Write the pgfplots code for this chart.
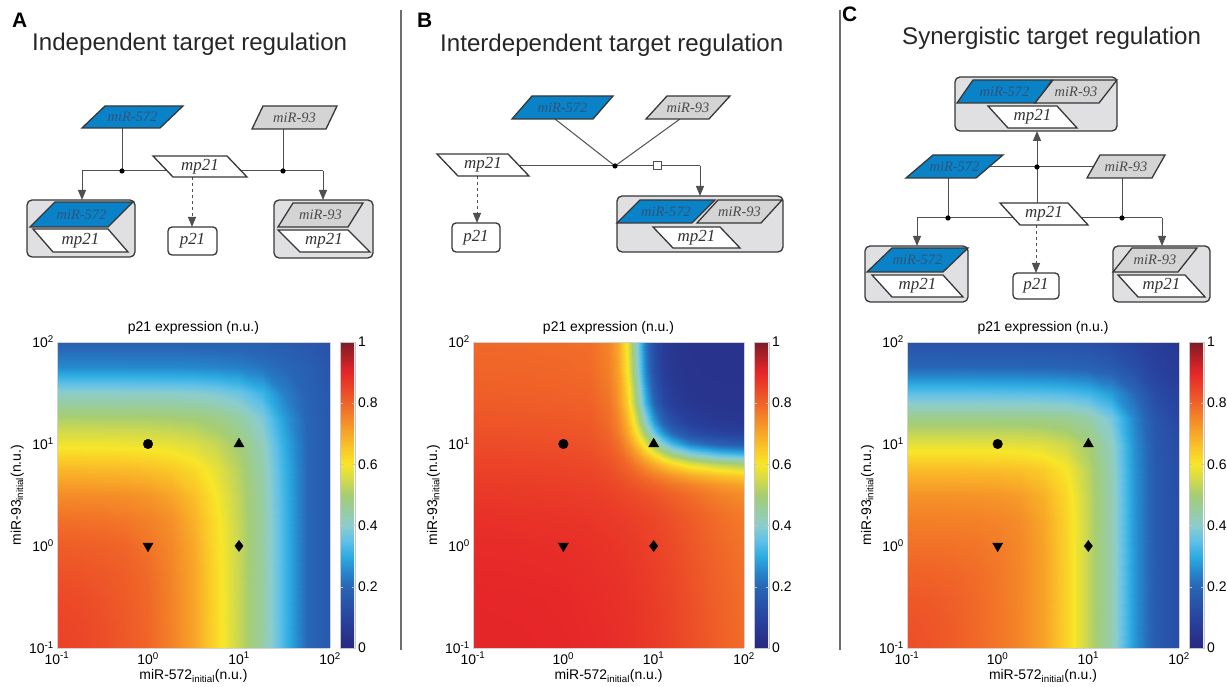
\documentclass[border=0pt]{standalone}
\usepackage{fontspec}
\setmainfont{Liberation Sans}
\newfontfamily\serif{Liberation Serif}
\usepackage{pgfplots}
\pgfplotsset{compat=1.18}
\usetikzlibrary{arrows.meta}

\definecolor{mirblue}{RGB}{10,130,200}
\definecolor{mirgray}{RGB}{212,212,212}
\definecolor{cplx}{RGB}{224,224,226}
\definecolor{bord}{RGB}{55,55,55}
\definecolor{conn}{RGB}{80,80,80}
\definecolor{sepc}{RGB}{110,110,110}
\definecolor{txtblue}{RGB}{45,85,125}
\definecolor{txtgray}{RGB}{75,75,75}
\definecolor{txtdark}{RGB}{50,50,50}

\newcommand{\axfont}{\fontsize{14}{16}\selectfont}
\newcommand{\dfont}[1]{\serif\itshape\fontsize{#1}{#1}\selectfont}

\tikzset{
  pb/.style={draw=bord, line width=1.3bp, line join=miter},
  cn/.style={draw=conn, line width=1bp},
  arr/.style={cn, -{Triangle[length=10bp,width=8bp]}},
}
% tlx, trx, blx, ytop, ybot, fill, textcolor, text, size
\newcommand{\para}[9]{%
  \draw[pb, fill=#6] (#1,#4) -- (#2,#4) -- ({#3+#2-#1},#5) -- (#3,#5) -- cycle;
  \node[text=#7, font=\dfont{#9}, inner sep=0pt] at ({(#2+#3)/2},{(#4+#5)/2}) {#8};}

\pgfplotsset{
  colormap={printjet}{
    rgb255(0pt)=(40,40,128) rgb255(5pt)=(40,54,144) rgb255(10pt)=(40,68,160)
    rgb255(15pt)=(40,85,171) rgb255(20pt)=(40,102,182) rgb255(25pt)=(38,135,205)
    rgb255(30pt)=(45,172,225) rgb255(35pt)=(95,192,232) rgb255(40pt)=(140,205,205)
    rgb255(45pt)=(152,205,160) rgb255(50pt)=(165,205,115) rgb255(55pt)=(210,218,75)
    rgb255(60pt)=(248,230,40) rgb255(65pt)=(250,200,40) rgb255(70pt)=(248,168,40)
    rgb255(75pt)=(244,135,40) rgb255(80pt)=(240,100,40) rgb255(85pt)=(235,68,40)
    rgb255(90pt)=(230,38,40) rgb255(95pt)=(180,32,40) rgb255(100pt)=(125,28,38)},
  colorbar shift/.style={},
  heat/.style={
    scale only axis, height=306bp, view={0}{90},
    xmin=-1, xmax=2, ymin=-1, ymax=2,
    enlargelimits=false,
    xtick={-1,0,1,2}, ytick={-1,0,1,2},
    xticklabels={10\textsuperscript{-1},10\textsuperscript{0},10\textsuperscript{1},10\textsuperscript{2}},
    yticklabels={10\textsuperscript{-1},10\textsuperscript{0},10\textsuperscript{1},10\textsuperscript{2}},
    tick label style={font=\axfont},
    xticklabel style={anchor=north, inner sep=0pt, yshift=-4bp},
    yticklabel style={anchor=east, inner sep=0pt, xshift=-3bp},
    major tick length=0pt, minor tick length=0pt,
    axis line style={draw=gray!35, line width=0.5bp},
    axis on top,
    colormap name=printjet,
    point meta min=0, point meta max=1,
    title={p21 expression (n.u.)},
    title style={font=\axfont, at={(axis description cs:0.5,1)}, anchor=base, yshift=5bp},
    xlabel={miR-572\textsubscript{initial}(n.u.)},
    xlabel style={font=\axfont, at={(axis description cs:0.5,0)}, anchor=base, yshift=-32bp},
    ylabel={miR-93\textsubscript{initial}(n.u.)},
    ylabel style={font=\axfont, at={(axis description cs:-0.132,0.5)}, anchor=base},
    colorbar,
    colorbar style={
      at={(parent axis.north east)}, anchor=north west, xshift=10bp,
      scale only axis, width=15bp,
      ytick={0,0.2,0.4,0.6,0.8,1},
      yticklabels={0,0.2,0.4,0.6,0.8,1},
      yticklabel style={font=\axfont, inner sep=0pt, anchor=west, xshift=3bp},
      axis line style={draw=gray!45, line width=0.5bp},
      major tick length=3bp, tick style={draw=gray!45}, tick align=inside,
    },
  },
  mk/.style={only marks, black, forget plot},
}

\begin{document}
\begin{tikzpicture}[x=1bp, y=1bp]
\useasboundingbox (0,0) rectangle (1227,687);

%================ Panel A heat map =================
\begin{axis}[heat, at={(57bp,39bp)}, anchor=south west, width=273bp]
\addplot3[surf, shader=interp, mesh/rows=13] coordinates {
(-1,-1,0.855) (-0.75,-1,0.847) (-0.5,-1,0.836) (-0.25,-1,0.818) (0,-1,0.799) (0.25,-1,0.758) (0.5,-1,0.707) (0.75,-1,0.623) (1,-1,0.538) (1.25,-1,0.449) (1.5,-1,0.320) (1.75,-1,0.202) (2,-1,0.160)
(-1,-0.75,0.850) (-0.75,-0.75,0.845) (-0.5,-0.75,0.834) (-0.25,-0.75,0.817) (0,-0.75,0.798) (0.25,-0.75,0.758) (0.5,-0.75,0.706) (0.75,-0.75,0.622) (1,-0.75,0.538) (1.25,-0.75,0.449) (1.5,-0.75,0.320) (1.75,-0.75,0.202) (2,-0.75,0.160)
(-1,-0.5,0.843) (-0.75,-0.5,0.838) (-0.5,-0.5,0.828) (-0.25,-0.5,0.814) (0,-0.5,0.795) (0.25,-0.5,0.757) (0.5,-0.5,0.705) (0.75,-0.5,0.622) (1,-0.5,0.538) (1.25,-0.5,0.449) (1.5,-0.5,0.320) (1.75,-0.5,0.202) (2,-0.5,0.160)
(-1,-0.25,0.829) (-0.75,-0.25,0.825) (-0.5,-0.25,0.819) (-0.25,-0.25,0.809) (0,-0.25,0.790) (0.25,-0.25,0.754) (0.5,-0.25,0.703) (0.75,-0.25,0.621) (1,-0.25,0.537) (1.25,-0.25,0.449) (1.5,-0.25,0.320) (1.75,-0.25,0.202) (2,-0.25,0.160)
(-1,0,0.811) (-0.75,0,0.810) (-0.5,0,0.806) (-0.25,0,0.800) (0,0,0.778) (0.25,0,0.749) (0.5,0,0.697) (0.75,0,0.618) (1,0,0.536) (1.25,0,0.448) (1.5,0,0.320) (1.75,0,0.202) (2,0,0.160)
(-1,0.25,0.784) (-0.75,0.25,0.782) (-0.5,0.25,0.779) (-0.25,0.25,0.772) (0,0.25,0.759) (0.25,0.25,0.738) (0.5,0.25,0.685) (0.75,0.25,0.612) (1,0.25,0.534) (1.25,0.25,0.447) (1.5,0.25,0.318) (1.75,0.25,0.202) (2,0.25,0.160)
(-1,0.5,0.743) (-0.75,0.5,0.743) (-0.5,0.5,0.741) (-0.25,0.5,0.738) (0,0.5,0.729) (0.25,0.5,0.706) (0.5,0.5,0.662) (0.75,0.5,0.600) (1,0.5,0.529) (1.25,0.5,0.444) (1.5,0.5,0.316) (1.75,0.5,0.201) (2,0.5,0.160)
(-1,0.75,0.674) (-0.75,0.75,0.674) (-0.5,0.75,0.672) (-0.25,0.75,0.670) (0,0.75,0.663) (0.25,0.75,0.649) (0.5,0.75,0.622) (0.75,0.75,0.576) (1,0.75,0.518) (1.25,0.75,0.436) (1.5,0.75,0.311) (1.75,0.75,0.201) (2,0.75,0.160)
(-1,1,0.589) (-0.75,1,0.589) (-0.5,1,0.589) (-0.25,1,0.587) (0,1,0.584) (0.25,1,0.577) (0.5,1,0.563) (0.75,1,0.537) (1,1,0.494) (1.25,1,0.420) (1.5,1,0.300) (1.75,1,0.200) (2,1,0.159)
(-1,1.25,0.508) (-0.75,1.25,0.508) (-0.5,1.25,0.507) (-0.25,1.25,0.507) (0,1.25,0.505) (0.25,1.25,0.503) (0.5,1.25,0.496) (0.75,1.25,0.481) (1,1.25,0.448) (1.25,1.25,0.385) (1.5,1.25,0.275) (1.75,1.25,0.197) (2,1.25,0.158)
(-1,1.5,0.405) (-0.75,1.5,0.405) (-0.5,1.5,0.405) (-0.25,1.5,0.404) (0,1.5,0.403) (0.25,1.5,0.401) (0.5,1.5,0.397) (0.75,1.5,0.387) (1,1.5,0.365) (1.25,1.5,0.319) (1.5,1.5,0.237) (1.75,1.5,0.191) (2,1.5,0.156)
(-1,1.75,0.253) (-0.75,1.75,0.253) (-0.5,1.75,0.253) (-0.25,1.75,0.253) (0,1.75,0.252) (0.25,1.75,0.252) (0.5,1.75,0.250) (0.75,1.75,0.246) (1,1.75,0.238) (1.25,1.75,0.221) (1.5,1.75,0.201) (1.75,1.75,0.180) (2,1.75,0.152)
(-1,2,0.186) (-0.75,2,0.186) (-0.5,2,0.186) (-0.25,2,0.186) (0,2,0.186) (0.25,2,0.186) (0.5,2,0.185) (0.75,2,0.185) (1,2,0.183) (1.25,2,0.180) (1.5,2,0.173) (1.75,2,0.160) (2,2,0.143)
};
\addplot3[mk, mark=*, mark size=4.8bp] coordinates {(0,1,1)};
\addplot3[mk, mark=triangle*, mark size=5.8bp] coordinates {(1,1,1)};
\addplot3[mk, mark=triangle*, mark size=5.8bp, mark options={rotate=180}] coordinates {(0,0,1)};
\addplot3[mk, mark=diamond*, mark size=5.5bp] coordinates {(1,0,1)};
\end{axis}

%================ Panel B heat map =================
\begin{axis}[heat, at={(473bp,39bp)}, anchor=south west, width=271bp]
\addplot3[surf, shader=interp, mesh/rows=15] coordinates {
(-1,-1,0.903) (-0.5,-1,0.902) (0,-1,0.899) (0.3,-1,0.894) (0.5,-1,0.889) (0.6,-1,0.886) (0.7,-1,0.882) (0.8,-1,0.878) (0.9,-1,0.872) (1,-1,0.866) (1.1,-1,0.859) (1.2,-1,0.852) (1.4,-1,0.835) (1.7,-1,0.810) (2,-1,0.788)
(-1,-0.5,0.900) (-0.5,-0.5,0.899) (0,-0.5,0.896) (0.3,-0.5,0.891) (0.5,-0.5,0.886) (0.6,-0.5,0.883) (0.7,-0.5,0.879) (0.8,-0.5,0.874) (0.9,-0.5,0.869) (1,-0.5,0.863) (1.1,-0.5,0.856) (1.2,-0.5,0.849) (1.4,-0.5,0.832) (1.7,-0.5,0.807) (2,-0.5,0.785)
(-1,0,0.891) (-0.5,0,0.890) (0,0,0.887) (0.3,0,0.882) (0.5,0,0.877) (0.6,0,0.874) (0.7,0,0.870) (0.8,0,0.866) (0.9,0,0.860) (1,0,0.854) (1.1,0,0.847) (1.2,0,0.840) (1.4,0,0.823) (1.7,0,0.798) (2,0,0.776)
(-1,0.3,0.881) (-0.5,0.3,0.879) (0,0.3,0.876) (0.3,0.3,0.872) (0.5,0.3,0.867) (0.6,0.3,0.863) (0.7,0.3,0.860) (0.8,0.3,0.855) (0.9,0.3,0.850) (1,0.3,0.844) (1.1,0.3,0.837) (1.2,0.3,0.829) (1.4,0.3,0.813) (1.7,0.3,0.787) (2,0.3,0.766)
(-1,0.5,0.871) (-0.5,0.5,0.869) (0,0.5,0.866) (0.3,0.5,0.862) (0.5,0.5,0.855) (0.6,0.5,0.849) (0.7,0.5,0.844) (0.8,0.5,0.838) (0.9,0.5,0.831) (1,0.5,0.824) (1.1,0.5,0.815) (1.2,0.5,0.807) (1.4,0.5,0.789) (1.7,0.5,0.762) (2,0.5,0.742)
(-1,0.6,0.865) (-0.5,0.6,0.864) (0,0.6,0.860) (0.3,0.6,0.856) (0.5,0.6,0.846) (0.6,0.6,0.841) (0.7,0.6,0.832) (0.8,0.6,0.822) (0.9,0.6,0.813) (1,0.6,0.802) (1.1,0.6,0.791) (1.2,0.6,0.779) (1.4,0.6,0.759) (1.7,0.6,0.730) (2,0.6,0.710)
(-1,0.7,0.858) (-0.5,0.7,0.857) (0,0.7,0.854) (0.3,0.7,0.849) (0.5,0.7,0.838) (0.6,0.7,0.828) (0.7,0.7,0.815) (0.8,0.7,0.800) (0.9,0.7,0.781) (1,0.7,0.762) (1.1,0.7,0.744) (1.2,0.7,0.725) (1.4,0.7,0.694) (1.7,0.7,0.661) (2,0.7,0.637)
(-1,0.8,0.852) (-0.5,0.8,0.851) (0,0.8,0.847) (0.3,0.8,0.843) (0.5,0.8,0.828) (0.6,0.8,0.815) (0.7,0.8,0.795) (0.8,0.8,0.766) (0.9,0.8,0.732) (1,0.8,0.695) (1.1,0.8,0.658) (1.2,0.8,0.625) (1.4,0.8,0.573) (1.7,0.8,0.525) (2,0.8,0.500)
(-1,0.9,0.845) (-0.5,0.9,0.844) (0,0.9,0.840) (0.3,0.9,0.836) (0.5,0.9,0.818) (0.6,0.9,0.800) (0.7,0.9,0.768) (0.8,0.9,0.722) (0.9,0.9,0.662) (1,0.9,0.597) (1.1,0.9,0.534) (1.2,0.9,0.480) (1.4,0.9,0.402) (1.7,0.9,0.342) (2,0.9,0.316)
(-1,1,0.838) (-0.5,1,0.837) (0,1,0.834) (0.3,1,0.829) (0.5,1,0.808) (0.6,1,0.784) (0.7,1,0.740) (0.8,1,0.670) (0.9,1,0.579) (1,1,0.483) (1.1,1,0.396) (1.2,1,0.328) (1.4,1,0.243) (1.7,1,0.189) (2,1,0.168)
(-1,1.1,0.831) (-0.5,1.1,0.830) (0,1.1,0.827) (0.3,1.1,0.822) (0.5,1.1,0.798) (0.6,1.1,0.768) (0.7,1.1,0.711) (0.8,1.1,0.618) (0.9,1.1,0.497) (1,1.1,0.376) (1.1,1.1,0.280) (1.2,1.1,0.212) (1.4,1.1,0.140) (1.7,1.1,0.103) (2,1.1,0.091)
(-1,1.2,0.825) (-0.5,1.2,0.824) (0,1.2,0.821) (0.3,1.2,0.816) (0.5,1.2,0.789) (0.6,1.2,0.755) (0.7,1.2,0.686) (0.8,1.2,0.569) (0.9,1.2,0.424) (1,1.2,0.292) (1.1,1.2,0.199) (1.2,1.2,0.141) (1.4,1.2,0.088) (1.7,1.2,0.065) (2,1.2,0.059)
(-1,1.4,0.814) (-0.5,1.4,0.812) (0,1.4,0.809) (0.3,1.4,0.805) (0.5,1.4,0.776) (0.6,1.4,0.732) (0.7,1.4,0.644) (0.8,1.4,0.495) (0.9,1.4,0.325) (1,1.4,0.193) (1.1,1.4,0.117) (1.2,1.4,0.080) (1.4,1.4,0.053) (1.7,1.4,0.044) (2,1.4,0.043)
(-1,1.7,0.801) (-0.5,1.7,0.800) (0,1.7,0.797) (0.3,1.7,0.792) (0.5,1.7,0.760) (0.6,1.7,0.713) (0.7,1.7,0.608) (0.8,1.7,0.437) (0.9,1.7,0.258) (1,1.7,0.139) (1.1,1.7,0.081) (1.2,1.7,0.057) (1.4,1.7,0.042) (1.7,1.7,0.040) (2,1.7,0.040)
(-1,2,0.793) (-0.5,2,0.792) (0,2,0.789) (0.3,2,0.785) (0.5,2,0.753) (0.6,2,0.702) (0.7,2,0.592) (0.8,2,0.413) (0.9,2,0.233) (1,2,0.122) (1.1,2,0.071) (1.2,2,0.051) (1.4,2,0.040) (1.7,2,0.040) (2,2,0.040)
};
\addplot3[mk, mark=*, mark size=4.8bp] coordinates {(0,1,1)};
\addplot3[mk, mark=triangle*, mark size=5.8bp] coordinates {(1,1,1)};
\addplot3[mk, mark=triangle*, mark size=5.8bp, mark options={rotate=180}] coordinates {(0,0,1)};
\addplot3[mk, mark=diamond*, mark size=5.5bp] coordinates {(1,0,1)};
\end{axis}

%================ Panel C heat map =================
\begin{axis}[heat, at={(907bp,39bp)}, anchor=south west, width=272bp]
\addplot3[surf, shader=interp, mesh/rows=13] coordinates {
(-1,-1,0.836) (-0.75,-1,0.826) (-0.5,-1,0.814) (-0.25,-1,0.795) (0,-1,0.775) (0.25,-1,0.752) (0.5,-1,0.711) (0.75,-1,0.635) (1,-1,0.535) (1.25,-1,0.433) (1.5,-1,0.274) (1.75,-1,0.165) (2,-1,0.130)
(-1,-0.75,0.829) (-0.75,-0.75,0.823) (-0.5,-0.75,0.813) (-0.25,-0.75,0.794) (0,-0.75,0.775) (0.25,-0.75,0.752) (0.5,-0.75,0.711) (0.75,-0.75,0.635) (1,-0.75,0.535) (1.25,-0.75,0.433) (1.5,-0.75,0.274) (1.75,-0.75,0.165) (2,-0.75,0.130)
(-1,-0.5,0.819) (-0.75,-0.5,0.816) (-0.5,-0.5,0.808) (-0.25,-0.5,0.793) (0,-0.5,0.774) (0.25,-0.5,0.751) (0.5,-0.5,0.711) (0.75,-0.5,0.635) (1,-0.5,0.535) (1.25,-0.5,0.433) (1.5,-0.5,0.274) (1.75,-0.5,0.165) (2,-0.5,0.130)
(-1,-0.25,0.802) (-0.75,-0.25,0.801) (-0.5,-0.25,0.797) (-0.25,-0.25,0.788) (0,-0.25,0.772) (0.25,-0.25,0.750) (0.5,-0.25,0.710) (0.75,-0.25,0.635) (1,-0.25,0.535) (1.25,-0.25,0.433) (1.5,-0.25,0.274) (1.75,-0.25,0.165) (2,-0.25,0.130)
(-1,0,0.783) (-0.75,0,0.782) (-0.5,0,0.781) (-0.25,0,0.777) (0,0,0.767) (0.25,0,0.749) (0.5,0,0.709) (0.75,0,0.634) (1,0,0.535) (1.25,0,0.433) (1.5,0,0.273) (1.75,0,0.164) (2,0,0.129)
(-1,0.25,0.761) (-0.75,0.25,0.761) (-0.5,0.25,0.760) (-0.25,0.25,0.759) (0,0.25,0.754) (0.25,0.25,0.742) (0.5,0.25,0.704) (0.75,0.25,0.632) (1,0.25,0.534) (1.25,0.25,0.432) (1.5,0.25,0.273) (1.75,0.25,0.163) (2,0.25,0.129)
(-1,0.5,0.733) (-0.75,0.5,0.733) (-0.5,0.5,0.732) (-0.25,0.5,0.731) (0,0.5,0.728) (0.25,0.5,0.717) (0.5,0.5,0.687) (0.75,0.5,0.625) (1,0.5,0.532) (1.25,0.5,0.432) (1.5,0.5,0.272) (1.75,0.5,0.163) (2,0.5,0.128)
(-1,0.75,0.667) (-0.75,0.75,0.667) (-0.5,0.75,0.667) (-0.25,0.75,0.666) (0,0.75,0.665) (0.25,0.75,0.660) (0.5,0.75,0.644) (0.75,0.75,0.601) (1,0.75,0.524) (1.25,0.75,0.427) (1.5,0.75,0.269) (1.75,0.75,0.162) (2,0.75,0.126)
(-1,1,0.574) (-0.75,1,0.574) (-0.5,1,0.574) (-0.25,1,0.573) (0,1,0.573) (0.25,1,0.571) (0.5,1,0.565) (0.75,1,0.545) (1,1,0.500) (1.25,1,0.416) (1.5,1,0.263) (1.75,1,0.159) (2,1,0.124)
(-1,1.25,0.475) (-0.75,1.25,0.475) (-0.5,1.25,0.475) (-0.25,1.25,0.475) (0,1.25,0.474) (0.25,1.25,0.474) (0.5,1.25,0.472) (0.75,1.25,0.465) (1,1.25,0.442) (1.25,1.25,0.378) (1.5,1.25,0.248) (1.75,1.25,0.150) (2,1.25,0.105)
(-1,1.5,0.347) (-0.75,1.5,0.347) (-0.5,1.5,0.347) (-0.25,1.5,0.347) (0,1.5,0.346) (0.25,1.5,0.345) (0.5,1.5,0.342) (0.75,1.5,0.336) (1,1.5,0.321) (1.25,1.5,0.277) (1.5,1.5,0.205) (1.75,1.5,0.120) (2,1.5,0.090)
(-1,1.75,0.199) (-0.75,1.75,0.199) (-0.5,1.75,0.199) (-0.25,1.75,0.198) (0,1.75,0.198) (0.25,1.75,0.197) (0.5,1.75,0.196) (0.75,1.75,0.192) (1,1.75,0.185) (1.25,1.75,0.170) (1.5,1.75,0.130) (1.75,1.75,0.090) (2,1.75,0.070)
(-1,2,0.142) (-0.75,2,0.142) (-0.5,2,0.141) (-0.25,2,0.141) (0,2,0.141) (0.25,2,0.140) (0.5,2,0.140) (0.75,2,0.139) (1,2,0.136) (1.25,2,0.120) (1.5,2,0.100) (1.75,2,0.075) (2,2,0.055)
};
\addplot3[mk, mark=*, mark size=4.8bp] coordinates {(0,1,1)};
\addplot3[mk, mark=triangle*, mark size=5.8bp] coordinates {(1,1,1)};
\addplot3[mk, mark=triangle*, mark size=5.8bp, mark options={rotate=180}] coordinates {(0,0,1)};
\addplot3[mk, mark=diamond*, mark size=5.5bp] coordinates {(1,0,1)};
\end{axis}

%================ Diagrams (pixel coordinates, y downwards) =================
\begin{scope}[shift={(0,687)}, yscale=-1]
% separators
\draw[sepc, line width=2bp] (401,10) -- (401,650);
\draw[sepc, line width=2bp] (839.5,10) -- (839.5,650);
% letters and titles
\node[anchor=base west, inner sep=0pt, font=\fontsize{21}{24}\selectfont\bfseries] at (12,28) {A};
\node[anchor=base west, inner sep=0pt, font=\fontsize{21}{24}\selectfont\bfseries] at (417,28) {B};
\node[anchor=base west, inner sep=0pt, font=\fontsize{21}{24}\selectfont\bfseries] at (842,22) {C};
\node[anchor=base west, inner sep=0pt, font=\fontsize{24.2}{28}\selectfont, text=black!85] at (32,51) {Independent target regulation};
\node[anchor=base west, inner sep=0pt, font=\fontsize{24.2}{28}\selectfont, text=black!85] at (440,52) {Interdependent target regulation};
\node[anchor=base west, inner sep=0pt, font=\fontsize{24.2}{28}\selectfont, text=black!85] at (902,45) {Synergistic target regulation};

%---- Panel A diagram
\draw[cn] (122,128) -- (122,171);
\draw[cn] (82,171) -- (167,171);
\draw[arr] (82,171) -- (82,200);
\draw[cn] (283,129) -- (283,171);
\draw[cn] (241,171) -- (323,171);
\draw[arr] (323,171) -- (323,200);
\draw[arr, dashed] (192,177) -- (192,227);
\para{105}{183}{82}{106}{128}{mirblue}{txtblue}{miR-572}{14.5}
\para{263}{337}{252}{106}{129}{mirgray}{txtgray}{miR-93}{14.5}
\para{153}{227}{173}{156}{177}{white}{txtdark}{mp21}{17}
\fill[black] (122,171) circle (2.6);
\fill[black] (283,171) circle (2.6);
\draw[pb, fill=white, rounded corners=4bp] (168,227) rectangle (217,255);
\node[font=\dfont{17}, text=txtdark, inner sep=0pt] at (192.5,241) {p21};
\draw[pb, fill=cplx, rounded corners=5bp] (27,200) rectangle (135,257);
\para{55}{133}{30}{202}{227}{mirblue}{txtblue}{miR-572}{14.5}
\para{33}{108}{53}{229}{252}{white}{txtdark}{mp21}{17}
\draw[pb, fill=cplx, rounded corners=5bp] (274,200) rectangle (373,258);
\para{293}{363}{278}{203}{227}{mirgray}{txtgray}{miR-93}{14.5}
\para{278}{348}{300}{230}{252}{white}{txtdark}{mp21}{17}

%---- Panel B diagram
\draw[cn] (555,119) -- (615,166);
\draw[cn] (680,119) -- (615,166);
\draw[cn] (508,166) -- (700,166);
\draw[arr] (700,166) -- (700,196);
\draw[cn, fill=white] (653,162) rectangle (661,170);
\fill[black] (615,166) circle (2.6);
\draw[arr, dashed] (477,176) -- (477,223);
\para{532}{613}{512}{96}{119}{mirblue}{txtblue}{miR-572}{14.5}
\para{667}{730}{646}{96}{119}{mirgray}{txtgray}{miR-93}{14.5}
\para{437}{508}{458}{154}{176}{white}{txtdark}{mp21}{17}
\draw[pb, fill=white, rounded corners=4bp] (452,223) rectangle (500,252);
\node[font=\dfont{17}, text=txtdark, inner sep=0pt] at (476,237.5) {p21};
\draw[pb, fill=cplx, rounded corners=5bp] (617,196) rectangle (783,252);
\para{640}{715}{617}{200}{223}{mirblue}{txtblue}{miR-572}{14.5}
\para{718}{782}{697}{200}{223}{mirgray}{txtgray}{miR-93}{14.5}
\para{653}{720}{673}{227}{248}{white}{txtdark}{mp21}{17}

%---- Panel C diagram
\draw[pb, fill=cplx, rounded corners=5bp] (955,77) rectangle (1117,131);
\para{973}{1052}{957}{80}{103}{mirblue}{txtblue}{miR-572}{14.5}
\para{1053}{1117}{1035}{80}{103}{mirgray}{txtgray}{miR-93}{14.5}
\para{988}{1057}{1008}{106}{128}{white}{txtdark}{mp21}{17}
\draw[arr] (1037,203) -- (1037,131);
\draw[cn] (989,167) -- (1093,167);
\draw[cn] (948,178) -- (948,218);
\draw[cn] (1122,178) -- (1122,218);
\draw[cn] (917,218) -- (1014,218);
\draw[cn] (1082,218) -- (1162,218);
\draw[arr] (917,218) -- (917,246);
\draw[arr] (1162,218) -- (1162,246);
\draw[arr, dashed] (1036,225) -- (1036,273);
\para{933}{1003}{906}{155}{178}{mirblue}{txtblue}{miR-572}{14.5}
\para{1100}{1165}{1087}{155}{178}{mirgray}{txtgray}{miR-93}{14.5}
\para{1000}{1068}{1020}{203}{225}{white}{txtdark}{mp21}{17}
\fill[black] (1037,167) circle (2.6);
\fill[black] (948,218) circle (2.6);
\fill[black] (1122,218) circle (2.6);
\draw[pb, fill=white, rounded corners=4bp] (1013,273) rectangle (1059,299);
\node[font=\dfont{17}, text=txtdark, inner sep=0pt] at (1036,286) {p21};
\draw[pb, fill=cplx, rounded corners=5bp] (865,246) rectangle (968,302);
\para{892}{968}{867}{248}{272}{mirblue}{txtblue}{miR-572}{14.5}
\para{872}{943}{892}{275}{297}{white}{txtdark}{mp21}{17}
\draw[pb, fill=cplx, rounded corners=5bp] (1113,246) rectangle (1210,302);
\para{1132}{1197}{1113}{248}{272}{mirgray}{txtgray}{miR-93}{14.5}
\para{1118}{1185}{1138}{275}{297}{white}{txtdark}{mp21}{17}
\end{scope}
\end{tikzpicture}
\end{document}
